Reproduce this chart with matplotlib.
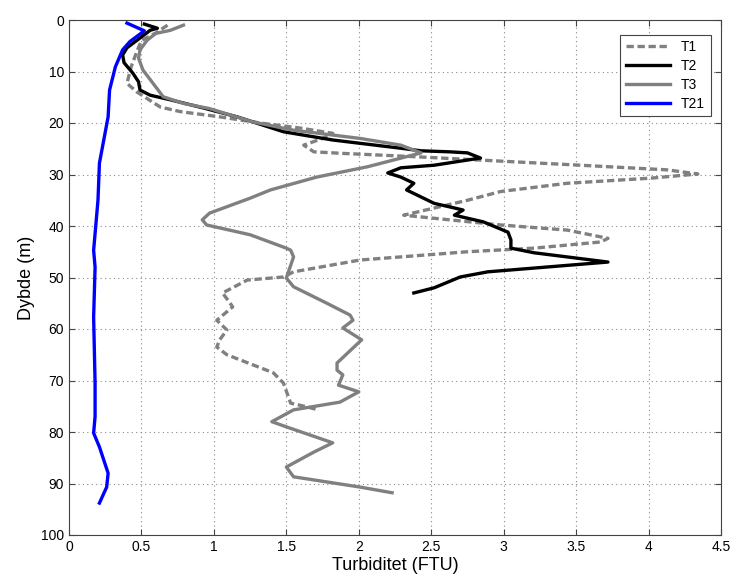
import matplotlib
matplotlib.use("Agg")
import matplotlib.pyplot as plt

plt.rcParams["font.family"] = ["Liberation Sans", "DejaVu Sans"]

# T1 (gray dashed)
t1_turb = [0.68, 0.60, 0.50, 0.47, 0.43, 0.40, 0.47, 0.63, 0.77, 1.04, 1.32, 1.60, 1.82,
           1.75, 1.62, 1.69, 1.89, 2.43, 2.84, 3.53, 4.13, 4.34, 4.02, 3.44, 2.98, 2.75,
           2.31, 2.52, 2.98, 3.44, 3.72, 3.67, 3.21, 2.75, 2.29, 2.01, 1.55, 1.48, 1.23,
           1.06, 1.13, 1.02, 1.09, 1.04, 1.02, 1.09, 1.41, 1.48, 1.53, 1.64, 1.72]
t1_depth = [1.0, 2.5, 4.0, 6.0, 9.0, 12.3, 14.0, 16.9, 17.8, 18.8, 20.0, 21.0, 22.0,
            23.0, 24.3, 25.6, 25.9, 26.6, 27.2, 28.2, 29.1, 29.9, 30.7, 31.7, 33.3, 35.0,
            37.9, 38.5, 39.8, 40.8, 42.4, 43.1, 44.3, 45.0, 46.0, 46.6, 48.9, 49.9, 50.5,
            53.0, 55.7, 58.3, 60.2, 62.1, 63.5, 65.0, 68.5, 70.5, 74.4, 75.1, 75.7]

# T2 (black)
t2_turb = [0.52, 0.61, 0.56, 0.49, 0.40, 0.37, 0.38, 0.44, 0.48, 0.49, 0.56, 0.70, 0.93,
           1.16, 1.48, 1.82, 2.29, 2.43, 2.63, 2.75, 2.84, 2.52, 2.29, 2.20, 2.29, 2.38,
           2.33, 2.52, 2.66, 2.72, 2.66, 2.86, 3.03, 3.05, 3.05, 3.21, 3.72, 2.89, 2.70,
           2.52, 2.38]
t2_depth = [0.8, 1.6, 2.0, 3.5, 5.4, 6.8, 8.3, 10.3, 12.0, 13.6, 14.6, 15.5, 17.1,
            18.8, 21.7, 23.3, 24.9, 25.4, 25.6, 25.8, 26.8, 28.2, 28.7, 29.7, 30.5, 31.7,
            33.0, 35.6, 36.5, 36.9, 37.9, 39.2, 41.2, 42.7, 44.3, 45.2, 47.0, 48.9, 49.9,
            52.0, 53.0]

# T3 (gray solid)
t3_turb = [0.79, 0.70, 0.60, 0.54, 0.49, 0.48, 0.51, 0.58, 0.65, 0.79, 0.97, 1.27, 1.55,
           2.01, 2.29, 2.43, 2.06, 1.71, 1.39, 1.25, 0.97, 0.92, 0.95, 1.25, 1.50, 1.53,
           1.55, 1.50, 1.55, 1.78, 1.94, 1.96, 1.89, 2.02, 1.85, 1.85, 1.89, 1.86, 2.00,
           1.87, 1.55, 1.40, 1.50, 1.82, 1.69, 1.50, 1.55, 2.01, 2.23]
t3_depth = [1.0, 2.0, 2.6, 3.9, 5.8, 7.4, 9.7, 12.3, 14.9, 16.2, 17.2, 19.8, 21.4,
            23.0, 24.3, 25.8, 28.5, 30.5, 33.0, 34.6, 37.5, 38.8, 39.8, 41.7, 44.3, 44.7,
            46.0, 50.1, 51.8, 55.0, 57.3, 58.3, 59.8, 62.1, 66.6, 68.0, 68.9, 70.9, 72.2,
            74.2, 75.7, 78.0, 79.0, 82.1, 83.9, 86.8, 88.7, 90.7, 91.8]

# T21 (blue)
t21_turb = [0.40, 0.52, 0.42, 0.37, 0.32, 0.28, 0.27, 0.24, 0.21, 0.20, 0.17, 0.18,
            0.17, 0.18, 0.18, 0.17, 0.21, 0.27, 0.26, 0.21]
t21_depth = [0.6, 2.1, 4.2, 5.8, 9.1, 13.6, 18.8, 23.3, 27.8, 35.0, 44.7, 48.0,
             57.7, 70.5, 77.0, 80.2, 82.9, 88.0, 90.7, 93.8]

x_ticks = [0, 0.5, 1, 1.5, 2, 2.5, 3, 3.5, 4, 4.5]
x_tick_labels = ["0", "0.5", "1", "1.5", "2", "2.5", "3", "3.5", "4", "4.5"]
y_ticks = list(range(0, 101, 10))

gray = (0.5, 0.5, 0.5)

fig = plt.figure(figsize=(7.34, 5.79), dpi=100)
ax = fig.add_axes([69 / 734, 44 / 579, 652 / 734, 515 / 579])

ax.plot(t1_turb, t1_depth, color=gray, lw=2.4, ls=(0, (2.2, 1.1)), label="T1")
ax.plot(t2_turb, t2_depth, color="black", lw=2.4, label="T2")
ax.plot(t3_turb, t3_depth, color=gray, lw=2.4, label="T3")
ax.plot(t21_turb, t21_depth, color="blue", lw=2.4, label="T21")

ax.set_xlim(0, 4.5)
ax.set_ylim(100, 0)
ax.set_xticks(x_ticks)
ax.set_xticklabels(x_tick_labels)
ax.set_yticks(y_ticks)
ax.tick_params(direction="in", top=True, right=True, labelsize=10, length=4,
               color="#444444")
ax.grid(True, ls=(0, (1, 3)), color="#888888", lw=0.8)
for s in ax.spines.values():
    s.set_color("#444444")

ax.set_xlabel("Turbiditet (FTU)", fontsize=13, labelpad=2)
ax.set_ylabel("Dybde (m)", fontsize=13, labelpad=4)

leg = ax.legend(loc="upper right", fontsize=10, fancybox=False, framealpha=1,
                edgecolor="#444444", handlelength=3.2, borderpad=0.4,
                labelspacing=0.35, bbox_to_anchor=(0.995, 0.985))
leg.get_frame().set_linewidth(0.8)

fig.savefig("out.png", dpi=100)
